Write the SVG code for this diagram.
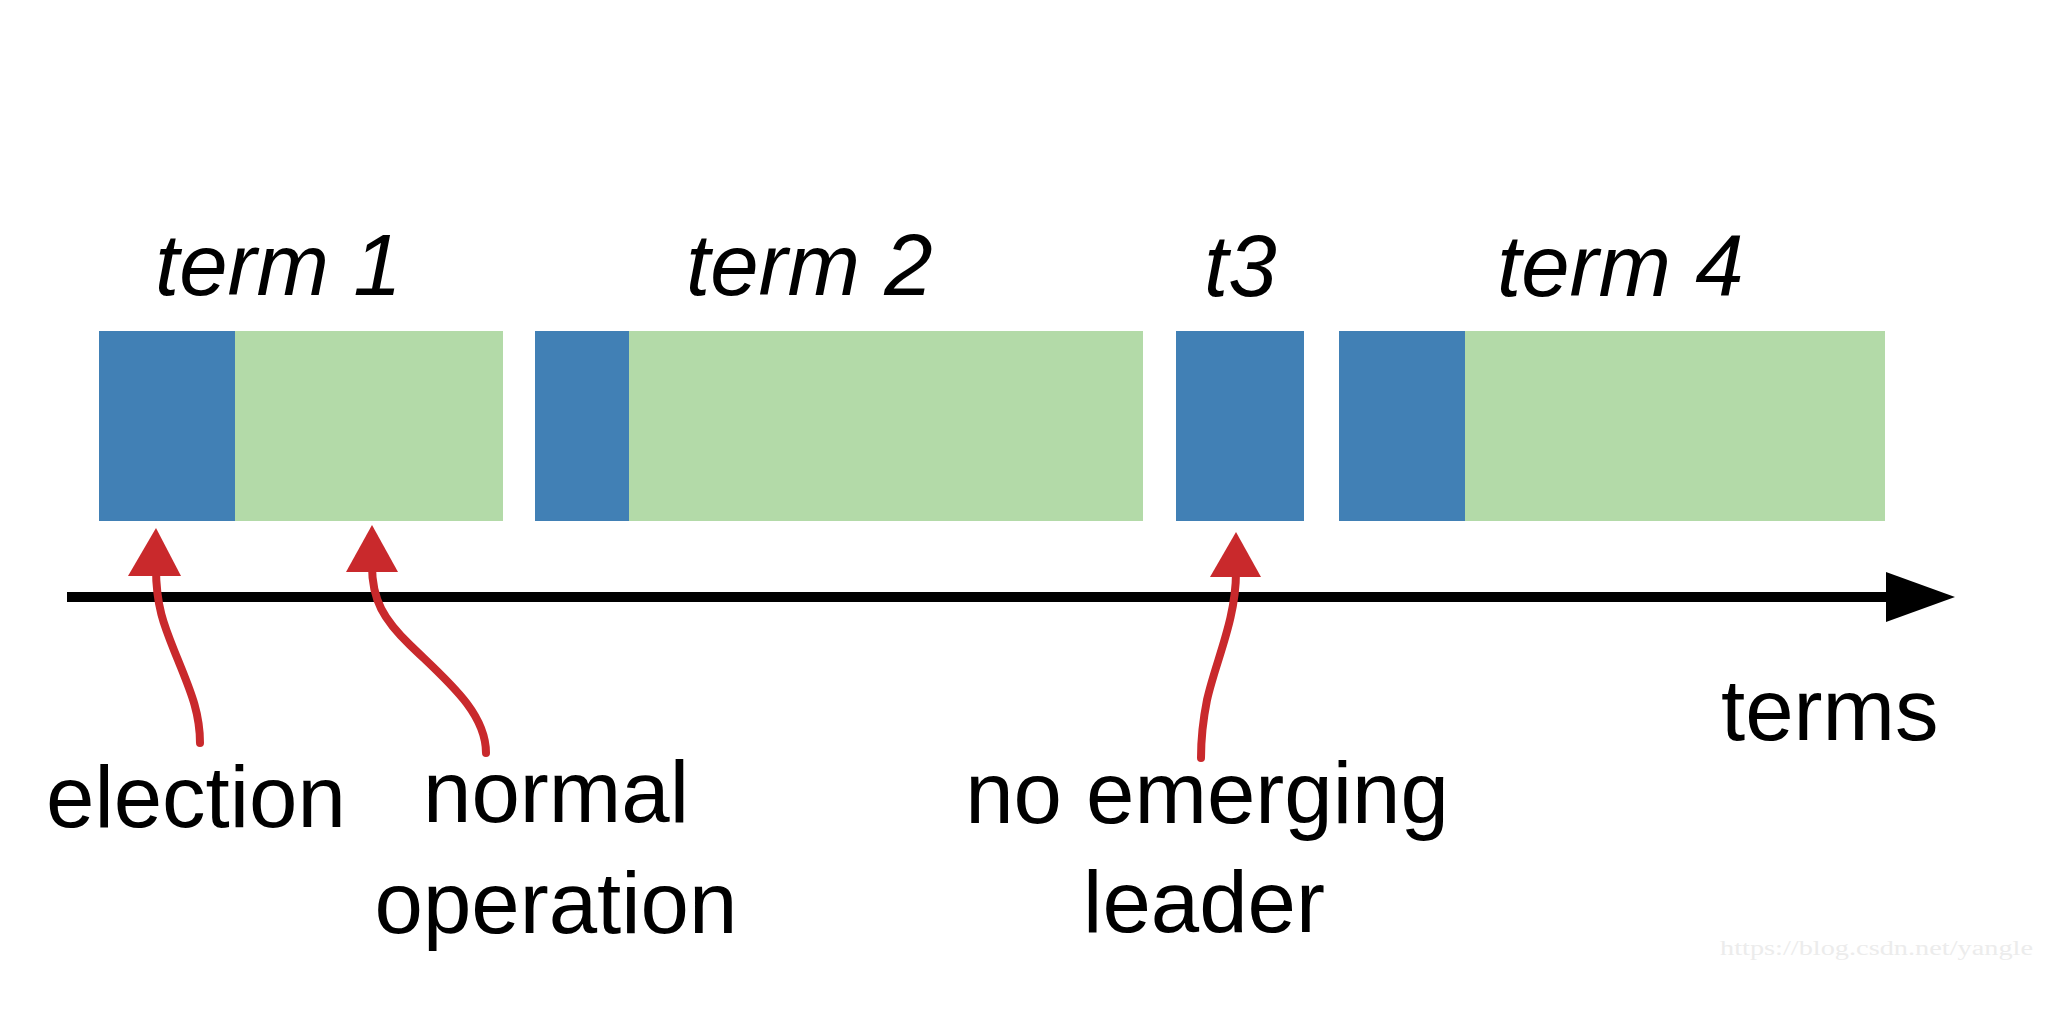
<svg xmlns="http://www.w3.org/2000/svg" width="2062" height="1034" viewBox="0 0 2062 1034">
<style>
.el{fill:#4180b5}
.no{fill:#b3daa8}
.lab{font-family:"Liberation Sans",Arial,sans-serif;font-size:87px;fill:#000}
.it{font-style:italic}
.red{fill:none;stroke:#c9292c;stroke-width:8;stroke-linecap:round}
.redh{fill:#c9292c}
</style>
<rect width="2062" height="1034" fill="#fff"/>
<g id="term1">
<rect class="el" x="99" y="331" width="136" height="190"/>
<rect class="no" x="235" y="331" width="268" height="190"/>
<text class="lab it" x="155" y="295">term 1</text>
</g>
<g id="term2">
<rect class="el" x="535" y="331" width="94" height="190"/>
<rect class="no" x="629" y="331" width="514" height="190"/>
<text class="lab it" x="686" y="295">term 2</text>
</g>
<g id="term3">
<rect class="el" x="1176" y="331" width="128" height="190"/>
<text class="lab it" x="1204" y="296">t3</text>
</g>
<g id="term4">
<rect class="el" x="1339" y="331" width="126" height="190"/>
<rect class="no" x="1465" y="331" width="420" height="190"/>
<text class="lab it" x="1497" y="296">term 4</text>
</g>
<g id="axis">
<line x1="67" y1="597" x2="1890" y2="597" stroke="#000" stroke-width="10"/>
<polygon points="1886,572 1955,597 1886,622" fill="#000"/>
<text class="lab" x="1721" y="740">terms</text>
</g>
<g id="connectors">
<path class="red" d="M156,568 C156,610 166,630 178,660 C190,690 200,712 200,743"/>
<polygon class="redh" points="128,576 156,528 181,576"/>
<path class="red" d="M372,566 C372,600 384,620 410,645 C446,680 486,712 486,753"/>
<polygon class="redh" points="346,572 372,525 398,572"/>
<path class="red" d="M1236,572 C1236,620 1216,660 1207,700 C1202,725 1201,740 1201,758"/>
<polygon class="redh" points="1210,577 1236,532 1261,577"/>
</g>
<g id="label-election">
<text class="lab" x="46" y="827">election</text>
</g>
<g id="label-normal">
<text class="lab" x="556" y="822" text-anchor="middle">normal</text>
<text class="lab" x="556" y="933" text-anchor="middle">operation</text>
</g>
<g id="label-noleader">
<text class="lab" x="1207" y="823" text-anchor="middle">no emerging</text>
<text class="lab" x="1204" y="932" text-anchor="middle">leader</text>
</g>
<text x="1720" y="955" font-family="Liberation Serif,serif" font-size="20" fill="#ececec" textLength="313" lengthAdjust="spacingAndGlyphs">https://blog.csdn.net/yangle</text>
</svg>
